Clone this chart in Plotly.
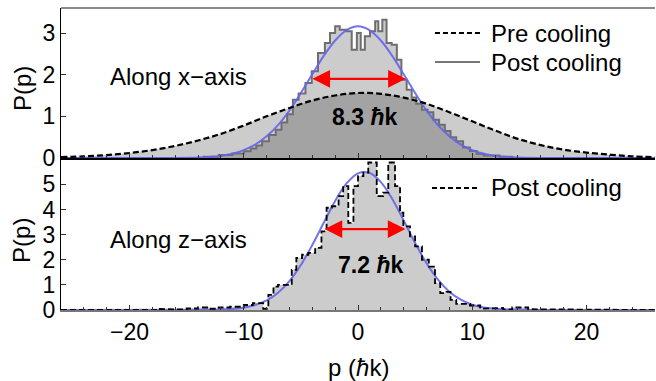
import plotly.graph_objects as go

# ---------------- data ----------------
# Top panel: pre-cooling distribution (dashed curve)
pre_p = [-26, -24, -22, -20, -18, -16, -14, -12, -10, -8, -6, -4, -2, 0,
         2, 4, 6, 8, 10, 12, 14, 16, 18, 20, 22, 24, 26]
pre_val = [0.02, 0.04, 0.07, 0.12, 0.19, 0.29, 0.42, 0.58, 0.78, 1.00, 1.20, 1.38, 1.50, 1.56,
           1.54, 1.45, 1.30, 1.10, 0.88, 0.66, 0.46, 0.31, 0.20, 0.13, 0.08, 0.04, 0.02]

# Top panel: post-cooling histogram (bin edges and heights)
hist_x_edges = [-13.5, -12.2, -11.0, -10.0, -9.4, -8.9, -8.4, -7.8, -7.2, -6.7, -6.2, -5.7, -5.2, -4.6, -4.05,
                -3.5, -2.9, -2.45, -2.0, -1.6, -1.0, -0.55, -0.1, 0.24, 0.6, 1.05, 1.5, 1.78, 2.13, 2.5,
                2.95, 3.4, 3.8, 4.26, 4.7, 5.1,
                5.6, 6.1, 6.6, 7.1, 7.6, 8.1, 8.6, 9.2, 9.8, 10.4, 11.0, 12.4, 13.5]
hist_x_vals = [0.03, 0.07, 0.11, 0.16, 0.23, 0.3, 0.4, 0.55, 0.68, 0.85, 1.05, 1.4, 1.55, 1.8,
               2.08, 2.52, 2.76, 3.0, 3.16, 3.08, 3.04, 2.6, 3.0, 2.6, 2.92, 3.04, 3.28, 3.04, 3.32, 2.76,
               2.72, 2.36, 1.88, 1.64, 1.45,
               1.3, 1.16, 1.1, 0.92, 0.8, 0.65, 0.5, 0.4, 0.25, 0.17, 0.1, 0.06, 0.03]

# Top panel: Gaussian fit (blue), sampled
fit_x_p = [-26, -16, -14, -13, -12, -11, -10, -9, -8, -7, -6, -5, -4, -3, -2, -1, 0,
           1, 2, 3, 4, 5, 6, 7, 8, 9, 10, 11, 12, 13, 14, 16, 26]
fit_x_val = [0.0, 0.0, 0.01, 0.025, 0.05, 0.10, 0.19, 0.32, 0.52, 0.79, 1.14, 1.56, 2.01, 2.45, 2.82, 3.07, 3.16,
             3.07, 2.82, 2.45, 2.01, 1.56, 1.14, 0.79, 0.52, 0.32, 0.19, 0.10, 0.05, 0.025, 0.01, 0.0, 0.0]

# Bottom panel: post-cooling histogram
hist_z_edges = [-17.5, -16.5, -15.0, -14.0, -13.0, -12.2, -11.2, -10.0, -9.2, -8.3,
                -7.85, -7.4, -7.0, -5.8, -5.4, -4.9, -4.35, -3.75, -3.2, -2.75,
                -2.3, -1.7, -1.3, -0.85, -0.4, 0.0, 0.47, 0.9, 1.64, 2.2,
                2.65, 3.24, 3.68, 3.97, 4.55, 5.0, 5.6, 6.2, 6.74, 7.2,
                7.75, 8.1, 8.6, 9.8, 10.7, 11.6, 12.7, 13.5, 14.9, 16.0]
hist_z_vals = [0.04, 0.02, 0.06, 0.1, 0.05, 0.1, 0.13, 0.2, 0.27, 0.05,
               0.6, 0.93, 1.0, 1.6, 2.07, 2.2, 2.27, 2.47, 3.13, 4.07,
               4.13, 4.53, 4.93, 3.47, 4.93, 5.33, 5.47, 5.87, 4.53, 4.67,
               5.87, 4.93, 3.87, 3.33, 2.93, 2.53, 2.0, 1.73, 1.07, 0.67,
               0.72, 0.4, 0.24, 0.18, 0.05, 0.08, 0.02, 0.1, 0.03]

# Bottom panel: Gaussian fit (blue), sampled
fit_z_p = [-26, -14, -13, -12, -11, -10, -9, -8, -7, -6, -5, -4, -3, -2, -1, 0,
           1, 2, 3, 4, 5, 6, 7, 8, 9, 10, 11, 12, 13, 14, 15, 26]
fit_z_val = [0.0, 0.005, 0.01, 0.02, 0.04, 0.09, 0.20, 0.38, 0.69, 1.15, 1.79, 2.59, 3.47, 4.34, 5.04, 5.44,
             5.46, 5.09, 4.42, 3.56, 2.67, 1.86, 1.21, 0.73, 0.41, 0.21, 0.10, 0.05, 0.02, 0.01, 0.0, 0.0]

# widths of the fits (labels) and arrow placement values
fit_widths = [8.3, 7.2]
fit_centers = [0.03, 0.55]
arrow_levels = [1.9, 3.22]
width_labels = ["8.3", "7.2"]

P_MIN, P_MAX = -26, 26

# ---------------- helpers ----------------
def steps(edges, vals):
    xs = [P_MIN, edges[0]]
    ys = [0, 0]
    for i, v in enumerate(vals):
        xs += [edges[i], edges[i + 1]]
        ys += [v, v]
    xs += [edges[-1], P_MAX]
    ys += [0, 0]
    return xs, ys

FONT = "Liberation Sans"
BLUE = "rgba(100,100,235,0.9)"
FILL = "rgba(0,0,0,0.2)"
FS = 23

fig = go.Figure()

# ---- top panel (x2/y2) ----
hx, hy = steps(hist_x_edges, hist_x_vals)
fig.add_trace(go.Scatter(x=pre_p, y=pre_val, mode="lines", line=dict(color="rgba(0,0,0,0)", shape="spline"),
                         fill="tozeroy", fillcolor=FILL, xaxis="x2", yaxis="y2", showlegend=False))
fig.add_trace(go.Scatter(x=hx, y=hy, mode="lines", line=dict(color="#6e6e6e", width=2),
                         fill="tozeroy", fillcolor=FILL, xaxis="x2", yaxis="y2", showlegend=False))
fig.add_trace(go.Scatter(x=fit_x_p, y=fit_x_val, mode="lines", line=dict(color=BLUE, width=2, shape="spline"),
                         xaxis="x2", yaxis="y2", showlegend=False))
fig.add_trace(go.Scatter(x=pre_p, y=pre_val, mode="lines",
                         line=dict(color="black", width=2.2, dash="6px,3px", shape="spline"),
                         xaxis="x2", yaxis="y2", showlegend=False))

# ---- bottom panel (x/y) ----
zx, zy = steps(hist_z_edges, hist_z_vals)
fig.add_trace(go.Scatter(x=zx, y=zy, mode="lines", line=dict(color="rgba(0,0,0,0)", width=0),
                         fill="tozeroy", fillcolor=FILL, xaxis="x", yaxis="y", showlegend=False))
fig.add_trace(go.Scatter(x=fit_z_p, y=fit_z_val, mode="lines", line=dict(color=BLUE, width=2, shape="spline"),
                         xaxis="x", yaxis="y", showlegend=False))
fig.add_trace(go.Scatter(x=zx, y=zy, mode="lines", line=dict(color="black", width=1.8, dash="6px,3px"),
                         xaxis="x", yaxis="y", showlegend=False))

annotations = []
# arrows + width labels
for i, (xa, ya) in enumerate([("x2", "y2"), ("x", "y")]):
    c, w, lvl = fit_centers[i], fit_widths[i], arrow_levels[i]
    annotations.append(dict(x=c + w / 2, y=lvl, ax=c - w / 2, ay=lvl, xref=xa, yref=ya, axref=xa, ayref=ya,
                            text="", showarrow=True, arrowhead=2, arrowside="end+start", arrowsize=1.6,
                            arrowwidth=2.2, arrowcolor="#ff0000"))
label_y = [0.98, 1.8]
for i, (xa, ya) in enumerate([("x2", "y2"), ("x", "y")]):
    annotations.append(dict(x=fit_centers[i] + 0.55, y=label_y[i], xref=xa, yref=ya, showarrow=False,
                            text="<b>%s <i>ħ</i>k</b>" % width_labels[i],
                            font=dict(family=FONT, size=FS, color="black")))

annotations.append(dict(x=-21.9, y=1.95, xref="x2", yref="y2", xanchor="left", yanchor="middle", showarrow=False,
                        text="Along x\u2212axis", font=dict(family=FONT, size=FS + 1, color="black")))
annotations.append(dict(x=-21.9, y=2.8, xref="x", yref="y", xanchor="left", yanchor="middle", showarrow=False,
                        text="Along z\u2212axis", font=dict(family=FONT, size=FS + 1, color="black")))

# axis titles
for yy in (0.735, 0.232):
    annotations.append(dict(x=-0.0657, y=yy, xref="paper", yref="paper", xanchor="center", yanchor="middle",
                            showarrow=False, textangle=-90,
                            text="P(p)", font=dict(family=FONT, size=FS + 1, color="black")))
annotations.append(dict(x=0.5, y=-0.192, xref="paper", yref="paper", xanchor="center", yanchor="middle",
                        showarrow=False, text="p (<i>ħ</i>k)", font=dict(family=FONT, size=FS + 1, color="black")))

# legends
leg = [("Pre cooling", 0.917), ("Post cooling", 0.821), ("Post cooling", 0.404)]
for t, yy in leg:
    annotations.append(dict(x=0.7205, y=yy, xref="paper", yref="paper", xanchor="left", yanchor="middle",
                            showarrow=False, text=t, font=dict(family=FONT, size=FS + 1, color="black")))

shapes = [
    dict(type="line", xref="paper", yref="paper", x0=0.6296, x1=0.7054, y0=0.917, y1=0.917,
         line=dict(color="black", width=2, dash="5px,3px")),
    dict(type="line", xref="paper", yref="paper", x0=0.6296, x1=0.7054, y0=0.821, y1=0.821,
         line=dict(color="#777777", width=2)),
    dict(type="line", xref="paper", yref="paper", x0=0.6246, x1=0.7004, y0=0.404, y1=0.404,
         line=dict(color="black", width=2, dash="5px,3px")),
    dict(type="line", xref="paper", yref="paper", x0=0, x1=1, y0=1, y1=1,
         line=dict(color="#8a8a8a", width=2)),
]

tickfont = dict(family=FONT, size=FS, color="black")
common_x = dict(range=[P_MIN, P_MAX], showgrid=False, zeroline=False, showline=True, ticks="inside",
                ticklen=5, tickcolor="#333", dtick=10, tick0=0,
                minor=dict(dtick=2, ticks="inside", ticklen=3, tickcolor="#333"))
fig.update_layout(
    width=656, height=381, margin=dict(l=61, r=1, t=8, b=71),
    paper_bgcolor="white", plot_bgcolor="white",
    xaxis=dict(**common_x, linecolor="#777", linewidth=2, anchor="y", tickfont=tickfont,
               showticklabels=True),
    yaxis=dict(domain=[0, 152 / 302], range=[0, 6.05], showgrid=False, zeroline=False, showline=True,
               linecolor="black", linewidth=1, ticks="inside", ticklen=5, tickcolor="#333",
               tickvals=[0, 1, 2, 3, 4, 5], tickfont=tickfont, anchor="x"),
    xaxis2=dict(**common_x, linecolor="black", linewidth=1.5, anchor="y2", showticklabels=False),
    yaxis2=dict(domain=[152 / 302, 1], range=[0, 3.6], showgrid=False, zeroline=False, showline=True,
                linecolor="black", linewidth=1, ticks="inside", ticklen=5, tickcolor="#333",
                tickvals=[0, 1, 2, 3], tickfont=tickfont, anchor="x2"),
    annotations=annotations, shapes=shapes,
)

fig.write_html("out.html")
